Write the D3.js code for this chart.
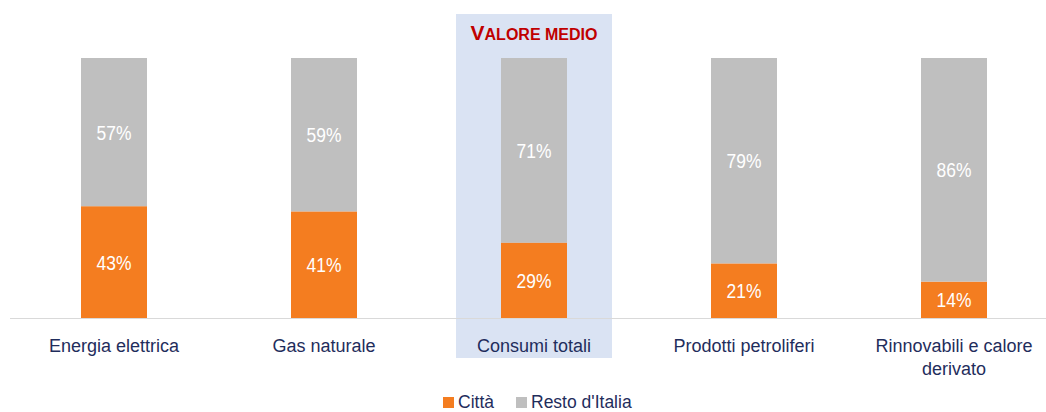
<!DOCTYPE html>
<html><head><meta charset="utf-8">
<script src="https://cdn.jsdelivr.net/npm/d3@7"></script>
<style>body{margin:0;background:#fff}svg{display:block}</style>
</head><body>
<svg id="c" width="1046" height="412"></svg>
<script>
const categories = ["Energia elettrica", "Gas naturale", "Consumi totali", "Prodotti petroliferi", "Rinnovabili e calore derivato"];
const citta = [43, 41, 29, 21, 14];
const resto = [57, 59, 71, 79, 86];
const seriesNames = ["Città", "Resto d'Italia"];
const highlightCategory = "Consumi totali";
const highlightLabel = "Valore medio";

const svg = d3.select("#c");
const colors = ["#F47D20", "#BFBFBF"];
const navy = "#1F2D5C";
const FF = "Liberation Sans, Arial, sans-serif";

const x = d3.scaleBand().domain(categories).range([9, 1059])
  .paddingInner(1 - 66 / 210).paddingOuter((1 - 66 / 210) / 2);
const y = d3.scaleLinear().domain([0, 100]).range([318, 58]);

// highlight
const hx = x(highlightCategory) + x.bandwidth() / 2;
svg.append("rect").attr("x", hx - 78).attr("y", 14).attr("width", 156).attr("height", 344).attr("fill", "#DAE3F3");
const t = svg.append("text").attr("x", hx).attr("y", 40).attr("text-anchor", "middle")
  .attr("fill", "#C00000").attr("font-family", FF).attr("font-weight", "bold");
const words = highlightLabel.toUpperCase().split(" ");
t.append("tspan").attr("font-size", 21).text(words[0][0]);
t.append("tspan").attr("font-size", 16).text(words[0].slice(1) + " " + words.slice(1).join(" "));

// axis line
svg.append("line").attr("x1", 10).attr("x2", 1046).attr("y1", 318.5).attr("y2", 318.5).attr("stroke", "#D9D9D9").attr("stroke-width", 1);

const data = categories.map((c, i) => ({c, a: citta[i], b: resto[i]}));
const g = svg.append("g");
function pctLabel(cx, cy, v) {
  g.append("text").attr("transform", `translate(${cx},${cy + 7.5}) scale(0.83,1)`).attr("text-anchor", "middle")
    .attr("fill", "#fff").attr("font-size", 21).attr("font-family", FF).text(v + "%");
}
data.forEach(d => {
  const bx = x(d.c);
  g.append("rect").attr("x", bx).attr("width", x.bandwidth()).attr("y", y(d.a)).attr("height", y(0) - y(d.a)).attr("fill", colors[0]);
  g.append("rect").attr("x", bx).attr("width", x.bandwidth()).attr("y", y(d.a + d.b)).attr("height", y(d.a) - y(d.a + d.b)).attr("fill", colors[1]);
  const cx = bx + x.bandwidth() / 2;
  pctLabel(cx, (y(0) + y(d.a)) / 2, d.a);
  pctLabel(cx, (y(d.a) + y(d.a + d.b)) / 2, d.b);
});

// category labels
const wrapMap = {"Rinnovabili e calore derivato": ["Rinnovabili e calore", "derivato"]};
categories.forEach(c => {
  const lines = wrapMap[c] || [c];
  const tx = svg.append("text").attr("text-anchor", "middle").attr("fill", navy)
    .attr("font-size", 18).attr("font-family", FF);
  lines.forEach((l, i) => tx.append("tspan").attr("x", x(c) + x.bandwidth() / 2).attr("y", 352 + i * 23).text(l));
});

// legend
const leg = [{n: seriesNames[0], c: colors[0], x: 443}, {n: seriesNames[1], c: colors[1], x: 516}];
leg.forEach(l => {
  svg.append("rect").attr("x", l.x).attr("y", 397).attr("width", 11).attr("height", 11).attr("fill", l.c);
  svg.append("text").attr("x", l.x + 15).attr("y", 408).attr("fill", navy).attr("font-size", 17.5)
    .attr("font-family", FF).text(l.n);
});
</script>
</body></html>
